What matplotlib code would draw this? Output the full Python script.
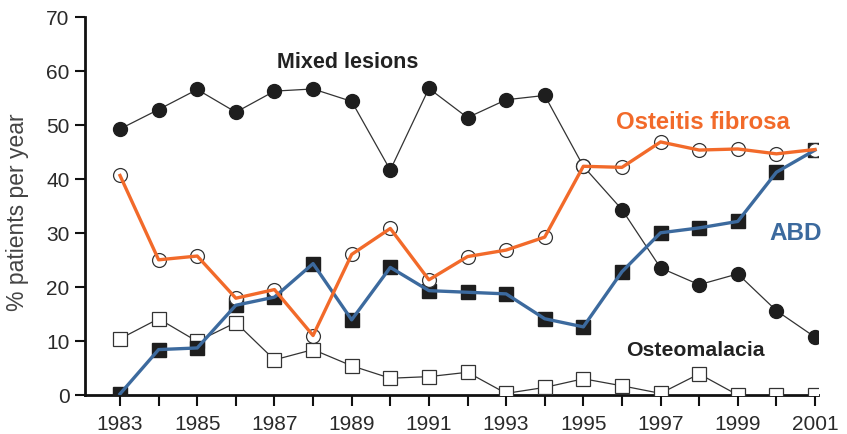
import matplotlib
matplotlib.use("Agg")
import matplotlib.pyplot as plt
import numpy as np

years = list(range(1983, 2002))
mixed = [49.2, 52.8, 56.5, 52.3, 56.2, 56.6, 54.3, 41.6, 56.7, 51.3, 54.6, 55.4, 42.3, 34.3, 23.5, 20.4, 22.4, 15.6, 10.7]
osteitis = [40.6, 25.0, 25.7, 17.9, 19.5, 11.0, 26.0, 30.8, 21.3, 25.6, 26.8, 29.2, 42.3, 42.1, 46.8, 45.3, 45.5, 44.6, 45.4]
abd = [0.2, 8.4, 8.7, 16.6, 18.1, 24.3, 13.9, 23.6, 19.3, 19.0, 18.7, 14.1, 12.6, 22.8, 30.0, 30.9, 32.1, 41.2, 45.3]
osteomalacia = [10.4, 14.1, 9.9, 13.4, 6.5, 8.4, 5.4, 3.1, 3.4, 4.2, 0.3, 1.4, 3.0, 1.7, 0.3, 3.9, 0.0, 0.0, 0.0]
xtick_labels = [str(y) for y in range(1983, 2002, 2)]
ytick_vals = list(range(0, 71, 10))

plt.rcParams['font.family'] = ['Liberation Sans', 'DejaVu Sans']

fig = plt.figure(figsize=(8.47, 4.35), dpi=100)
ax = fig.add_axes([85/847, 1-396/435, (818-85)/847, (396-17.5)/435])

orange = '#F26A2A'
blue = '#3C6A9E'
dark = '#1E1E1E'

ax.plot(years, mixed, '-', color='#333333', lw=0.9, marker='o', ms=10,
        mfc=dark, mec=dark, zorder=3)
ax.plot(years, osteomalacia, '-', color='#333333', lw=0.9, marker='s', ms=9.5,
        mfc='white', mec='#333333', mew=0.9, zorder=3)
ax.plot(years, abd, ls='none', marker='s', ms=10, mfc=dark, mec=dark, zorder=3)
ax.plot(years, abd, '-', color=blue, lw=2.4, zorder=4)
ax.plot(years, osteitis, ls='none', marker='o', ms=10, mfc='white', mec='#333333', mew=0.9, zorder=3)
ax.plot(years, osteitis, '-', color=orange, lw=2.4, zorder=4)

ax.set_xlim(1983 - 35/38.6, 2001 + 3/38.6)
ax.set_ylim(0, 70)
ax.set_xticks(years)
ax.set_xticklabels([str(y) if (y - 1983) % 2 == 0 else '' for y in years], fontsize=15, color='#2a2a2a')
ax.set_yticks(ytick_vals)
ax.set_yticklabels([str(v) for v in ytick_vals], fontsize=15, color='#2a2a2a')
ax.tick_params(axis='x', direction='out', length=8, width=1.5, color='#111111', pad=6)
ax.tick_params(axis='y', direction='out', length=7, width=1.5, color='#111111', pad=4)
for s in ['top', 'right']:
    ax.spines[s].set_visible(False)
for s in ['left', 'bottom']:
    ax.spines[s].set_linewidth(2.0)
    ax.spines[s].set_color('#111111')

ax.set_ylabel('% patients per year', fontsize=16.5, color='#444444')
ax.yaxis.set_label_coords((29 - 85) / 733, (396 - 212) / (396 - 17.5))

ax.text(1988.9, 61.6, 'Mixed lesions', fontsize=15.5, fontweight='bold', color='#222222', ha='center', va='center')
ax.text(1998.1, 50.5, 'Osteitis fibrosa', fontsize=17.2, fontweight='bold', color=orange, ha='center', va='center')
ax.text(2000.5, 30.0, 'ABD', fontsize=17.5, fontweight='bold', color=blue, ha='center', va='center')
ax.text(1997.9, 8.5, 'Osteomalacia', fontsize=15.3, fontweight='bold', color='#222222', ha='center', va='center')

fig.savefig('out.png', dpi=100)
